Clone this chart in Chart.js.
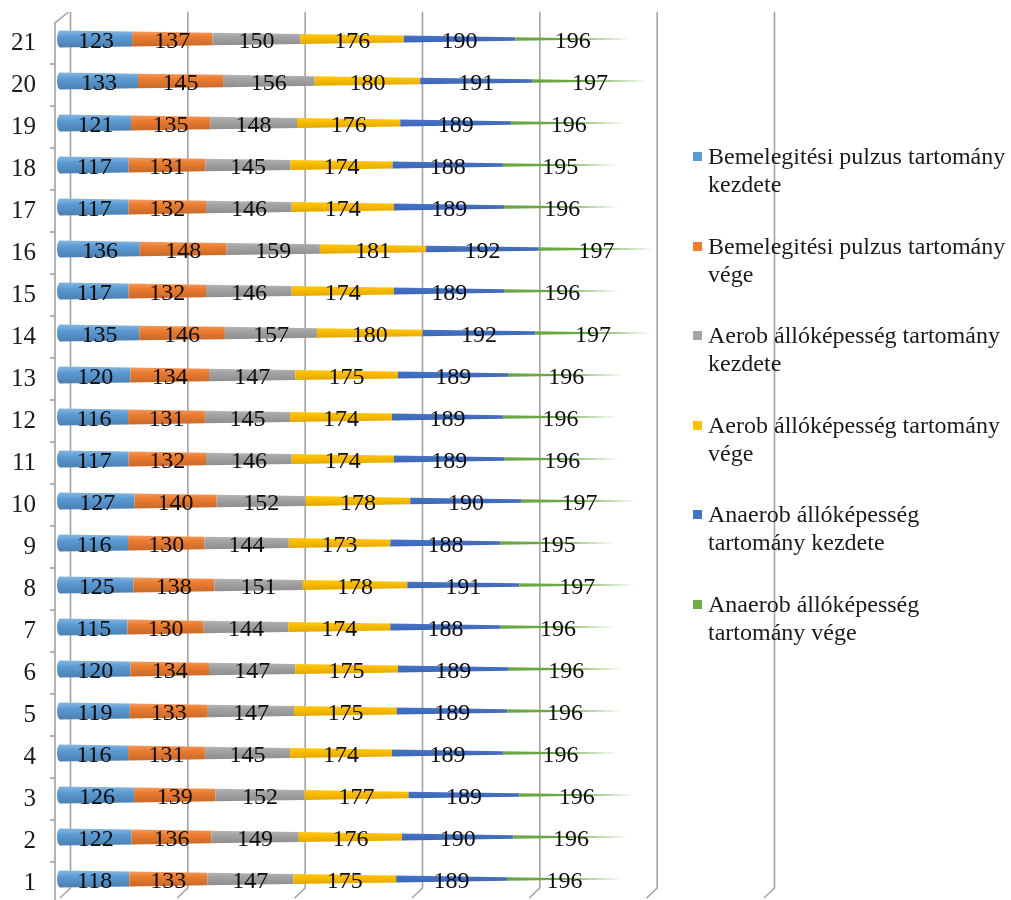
<!DOCTYPE html>
<html>
<head>
<meta charset="utf-8">
<script src="https://cdn.jsdelivr.net/npm/chart.js@4.4.1/dist/chart.umd.min.js"></script>
<style>
  html, body { margin: 0; padding: 0; background: #ffffff; }
  #wrap { position: relative; width: 1011px; height: 900px; overflow: hidden; }
  #chart { position: absolute; left: 0; top: 0; }
  #legend { position: absolute; left: 0; top: 0; width: 1011px; height: 900px; pointer-events: none;
            font-family: "Liberation Serif", "Times New Roman", serif; font-size: 24px; color: #1a1a1a; }
  .item { position: absolute; left: 693px; width: 318px; line-height: 28px; }
  .swatch { position: absolute; left: 0; top: 10px; width: 9px; height: 9px; }
  .text { position: absolute; left: 15px; white-space: nowrap; }
</style>
</head>
<body>
<div id="wrap">
  <canvas id="chart" width="1011" height="900"></canvas>
  <div id="legend"></div>
</div>
<script>
// Participants (1..21) and the six heart-rate zone boundaries, bpm
const labels = ['1','2','3','4','5','6','7','8','9','10','11','12','13','14','15','16','17','18','19','20','21'];

const warmupStart   = [118,122,126,116,119,120,115,125,116,127,117,116,120,135,117,136,117,117,121,133,123];
const warmupEnd     = [133,136,139,131,133,134,130,138,130,140,132,131,134,146,132,148,132,131,135,145,137];
const aerobicStart  = [147,149,152,145,147,147,144,151,144,152,146,145,147,157,146,159,146,145,148,156,150];
const aerobicEnd    = [175,176,177,174,175,175,174,178,173,178,174,174,175,180,174,181,174,174,176,180,176];
const anaerobicStart= [189,190,189,189,189,189,188,191,188,190,189,189,189,192,189,192,189,188,189,191,190];
const anaerobicEnd  = [196,196,196,196,196,196,196,197,195,197,196,196,196,197,196,197,196,195,196,197,196];

const seriesNames = [
  ['Bemelegitési pulzus tartomány', 'kezdete'],
  ['Bemelegitési pulzus tartomány', 'vége'],
  ['Aerob állóképesség tartomány', 'kezdete'],
  ['Aerob állóképesség tartomány', 'vége'],
  ['Anaerob állóképesség', 'tartomány kezdete'],
  ['Anaerob állóképesség', 'tartomány vége']
];
const seriesColors = ['#5B9BD5', '#ED7D31', '#A5A5A5', '#FFC000', '#4472C4', '#70AD47'];
const seriesValues = [warmupStart, warmupEnd, aerobicStart, aerobicEnd, anaerobicStart, anaerobicEnd];

// value axis gridlines
const gridValues = [0, 200, 400, 600, 800, 1000, 1200];

const DEPTH_X = 10.5;   // back wall offset to the right
const DEPTH_Y = 10;     // back wall offset upwards
const HALF = 8.5;       // half thickness of a cone at its base

function shade(hex, amt) {
  const n = parseInt(hex.slice(1), 16);
  let r = (n >> 16) & 255, g = (n >> 8) & 255, b = n & 255;
  if (amt >= 0) { r += (255 - r) * amt; g += (255 - g) * amt; b += (255 - b) * amt; }
  else { r *= 1 + amt; g *= 1 + amt; b *= 1 + amt; }
  return 'rgb(' + Math.round(r) + ',' + Math.round(g) + ',' + Math.round(b) + ')';
}

// 3D frame: back wall gridlines, floor edges, left wall
const framePlugin = {
  id: 'frame',
  beforeDatasetsDraw(chart) {
    const ctx = chart.ctx;
    const xs = chart.scales.x, ys = chart.scales.y;
    const area = chart.chartArea;
    const top = area.top - 6;
    const bottom = area.bottom - DEPTH_Y - 2;
    ctx.save();
    ctx.strokeStyle = '#a3a3a3';
    ctx.lineWidth = 1.6;
    gridValues.forEach(v => {
      const bx = xs.getPixelForValue(v) + DEPTH_X;
      ctx.beginPath();
      ctx.moveTo(bx, top);
      ctx.lineTo(bx, bottom);
      ctx.lineTo(bx - DEPTH_X, bottom + DEPTH_Y);
      ctx.stroke();
    });
    // left wall front edge with category ticks
    const fx = xs.getPixelForValue(0) - 5;
    const bx0 = xs.getPixelForValue(0) + DEPTH_X - 2;
    ctx.beginPath();
    ctx.moveTo(bx0, top);
    ctx.lineTo(fx, top + 11);
    ctx.lineTo(fx, area.bottom);
    ctx.stroke();
    const half = Math.abs(ys.getPixelForValue(1) - ys.getPixelForValue(0)) / 2;
    for (let i = 0; i < labels.length; i++) {
      const yb = ys.getPixelForValue(i) - half + 4;
      if (yb < top + 11) continue;
      ctx.beginPath();
      ctx.moveTo(fx - 5, yb);
      ctx.lineTo(fx, yb);
      ctx.stroke();
    }
    ctx.restore();
  }
};

// Cone-shaped stacked segments with value labels
const conePlugin = {
  id: 'cones',
  beforeDatasetDraw() { return false; },
  afterDatasetsDraw(chart) {
    const ctx = chart.ctx;
    const metas = chart.data.datasets.map((d, i) => chart.getDatasetMeta(i));
    const last = metas.length - 1;
    ctx.save();
    for (let j = 0; j < labels.length; j++) {
      const x0 = metas[0].data[j].base;
      const tip = metas[last].data[j].x;
      const y = metas[0].data[j].y;
      const hAt = px => HALF * Math.max(0, tip - px) / (tip - x0);
      for (let i = 0; i <= last; i++) {
        const el = metas[i].data[j];
        const l = el.base, r = el.x;
        const c = seriesColors[i];
        const g = ctx.createLinearGradient(0, y - HALF, 0, y + HALF);
        g.addColorStop(0, shade(c, 0.28));
        g.addColorStop(0.35, c);
        g.addColorStop(1, shade(c, -0.18));
        ctx.fillStyle = g;
        ctx.beginPath();
        ctx.moveTo(l, y - hAt(l));
        ctx.lineTo(r, y - hAt(r));
        ctx.lineTo(r, y + hAt(r));
        ctx.lineTo(l, y + hAt(l));
        ctx.closePath();
        ctx.fill();
        if (i === 0) {
          ctx.beginPath();
          ctx.ellipse(l, y, 3, HALF, 0, 0, Math.PI * 2);
          ctx.fill();
        }
      }
    }
    // value labels, centred in each segment
    ctx.fillStyle = '#0d0d0d';
    ctx.font = '24px "Liberation Serif", "Times New Roman", serif';
    ctx.textAlign = 'center';
    ctx.textBaseline = 'middle';
    metas.forEach((meta, i) => {
      meta.data.forEach((el, j) => {
        const v = chart.data.datasets[i].data[j];
        ctx.fillText(String(v), (el.base + el.x) / 2, el.y + 3);
      });
    });
    ctx.restore();
  }
};

const chart = new Chart(document.getElementById('chart'), {
  type: 'bar',
  data: {
    labels: labels,
    datasets: seriesValues.map((vals, i) => ({
      label: seriesNames[i].join(' '),
      data: vals,
      backgroundColor: seriesColors[i],
      borderWidth: 0
    }))
  },
  options: {
    indexAxis: 'y',
    responsive: false,
    devicePixelRatio: 1,
    animation: false,
    layout: { padding: { top: 18, right: 247, bottom: 0, left: 0 } },
    plugins: { legend: { display: false }, tooltip: { enabled: false } },
    scales: {
      x: {
        type: 'linear', stacked: true, min: 0, max: 1200,
        display: false,
        ticks: { stepSize: 200 }
      },
      y: {
        stacked: true,
        reverse: true,
        grid: { display: false, drawTicks: false },
        border: { display: false },
        ticks: {
          color: '#1a1a1a',
          padding: 24,
          labelOffset: 4,
          font: { family: '"Liberation Serif", "Times New Roman", serif', size: 25 }
        },
        afterFit(scale) {
          scale.width = 60;
          scale.paddingTop = 0;
          scale.paddingBottom = 0;
        }
      }
    }
  },
  plugins: [framePlugin, conePlugin]
});

// legend at the right
const legend = document.getElementById('legend');
seriesNames.forEach((lines, i) => {
  const item = document.createElement('div');
  item.className = 'item';
  item.style.top = (142 + i * 89.5) + 'px';
  const sw = document.createElement('div');
  sw.className = 'swatch';
  sw.style.background = seriesColors[i];
  const tx = document.createElement('div');
  tx.className = 'text';
  tx.innerHTML = lines.join('<br>');
  item.appendChild(sw);
  item.appendChild(tx);
  legend.appendChild(item);
});
</script>
</body>
</html>
